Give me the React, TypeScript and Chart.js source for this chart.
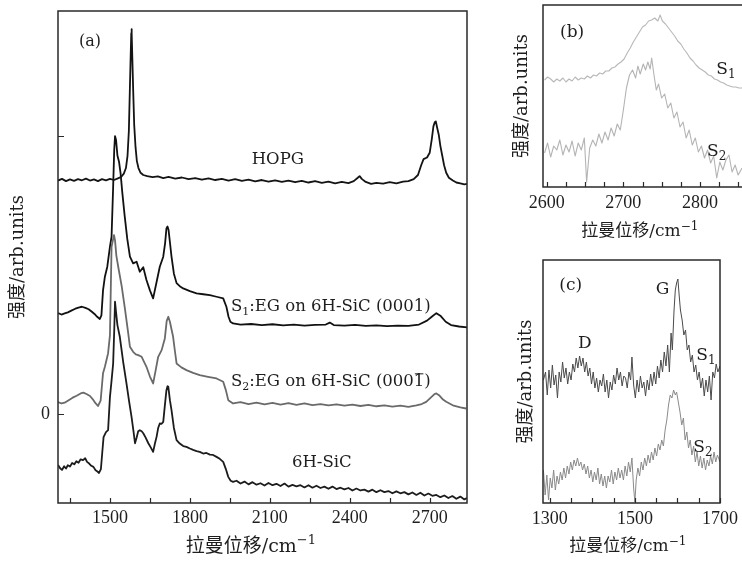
import React, { useEffect, useRef } from "react";
import { Chart, registerables } from "chart.js";

Chart.register(...registerables);

type Pt = [number, number];

// ---------------- Panel (a) data: Raman shift (cm^-1), offset intensity ----------------
const aHOPG: Pt[] = [
  [1305, 84.0], [1320, 84.6], [1335, 83.8], [1350, 84.4], [1365, 83.9], [1380, 84.5], [1395, 84.1], [1410, 84.7],
  [1425, 84.0], [1440, 84.4], [1455, 83.8], [1470, 84.5], [1485, 84.1], [1500, 84.6], [1515, 84.2], [1530, 84.8],
  [1542, 85.3], [1552, 86.5], [1560, 88.5], [1566, 93], [1571, 102], [1575, 118], [1578, 130], [1580, 137],
  [1581, 138.5], [1582, 137], [1584, 128], [1587, 117], [1591, 104], [1596, 96], [1601, 91], [1607, 88.5],
  [1615, 86.8], [1625, 86.0],
  [1640, 85.6], [1660, 85.2], [1680, 85.5], [1700, 84.9], [1720, 85.3], [1745, 84.7], [1770, 85.1], [1795, 84.5],
  [1820, 84.9], [1845, 84.3], [1870, 84.8], [1895, 84.2], [1920, 84.6], [1945, 84.0], [1970, 84.5], [1995, 83.9],
  [2020, 84.3], [2045, 83.7], [2070, 84.2], [2095, 83.6], [2120, 84.1], [2145, 83.5], [2170, 84.0], [2195, 83.4],
  [2220, 83.9], [2245, 83.3], [2270, 83.8], [2295, 83.2], [2320, 83.6], [2345, 83.0], [2370, 83.5], [2395, 83.1],
  [2415, 83.8], [2430, 85.0], [2437, 85.6], [2445, 84.6], [2460, 83.5], [2480, 82.8], [2500, 83.2], [2525, 82.9],
  [2550, 83.4], [2575, 83.0], [2600, 83.6], [2620, 83.8], [2640, 84.5], [2656, 86.0], [2668, 89.5], [2677, 91.7],
  [2690, 92.3], [2700, 94.0], [2708, 99.0], [2714, 103.5], [2719, 105.0], [2723, 105.3], [2728, 103.0], [2734, 100.5],
  [2740, 96.5], [2747, 93.0], [2754, 89.5], [2762, 86.8], [2772, 85.0], [2787, 84.0], [2800, 83.3], [2815, 83.0],
  [2830, 82.6], [2840, 82.8],
];

const aS1: Pt[] = [
  [1305, 36.3], [1318, 35.8], [1330, 36.2], [1342, 36.6], [1355, 37.2], [1370, 37.9], [1385, 38.4], [1395, 38.6],
  [1408, 38.2], [1420, 37.7], [1432, 36.8], [1442, 36.0], [1452, 35.0], [1462, 34.2], [1468, 35.5], [1474, 44.5],
  [1481, 49.4], [1490, 53.0], [1500, 60.2], [1506, 63.8], [1512, 81.8], [1516, 95.0], [1519, 100.0], [1523, 98.5],
  [1528, 93.0], [1534, 90.8], [1540, 86.5], [1546, 80.0], [1555, 71.5], [1565, 63.0], [1575, 56.6], [1587, 54.2],
  [1600, 54.8], [1612, 51.2], [1625, 52.8], [1637, 48.2], [1650, 44.5], [1662, 41.6], [1675, 47.5], [1687, 53.0],
  [1700, 56.6], [1707, 61.5], [1712, 66.8], [1716, 67.5], [1720, 66.2], [1726, 61.0], [1731, 56.6], [1740, 50.5],
  [1750, 47.1], [1762, 46.0], [1775, 45.2], [1800, 44.2], [1825, 43.4], [1850, 43.1], [1875, 42.8], [1900, 42.2],
  [1925, 41.6], [1937, 38.6], [1945, 35.0], [1952, 33.2], [1962, 32.6], [1990, 32.2], [2030, 32.4], [2070, 32.0],
  [2110, 32.3], [2150, 31.9], [2190, 32.2], [2230, 31.8], [2270, 32.1], [2310, 32.2], [2325, 32.9], [2340, 32.0],
  [2380, 31.8], [2420, 32.1], [2460, 31.7], [2500, 31.9], [2540, 31.6], [2580, 31.8], [2620, 31.7], [2660, 32.2],
  [2690, 33.6], [2710, 35.2], [2725, 36.3], [2740, 35.4], [2760, 33.2], [2780, 32.0], [2810, 31.5], [2840, 31.2],
];

const aS2: Pt[] = [
  [1305, 4.3], [1318, 3.8], [1330, 4.1], [1345, 5.0], [1360, 5.9], [1375, 6.6], [1390, 7.4], [1400, 7.7],
  [1412, 7.2], [1425, 6.5], [1435, 5.4], [1445, 4.0], [1455, 2.9], [1465, 4.8], [1474, 14.7], [1481, 17.0],
  [1493, 21.9], [1500, 28.4], [1506, 60.2], [1511, 62.5], [1515, 64.4], [1519, 62.5], [1524, 57.0], [1531, 53.0],
  [1544, 46.0], [1556, 38.0], [1568, 29.5], [1575, 24.2], [1587, 22.4], [1597, 21.5], [1606, 21.2], [1619, 20.6],
  [1628, 18.8], [1637, 17.0], [1650, 13.5], [1662, 11.0], [1672, 16.0], [1681, 20.6], [1694, 23.0], [1706, 27.2],
  [1713, 33.5], [1719, 35.0], [1725, 33.2], [1731, 30.5], [1737, 27.8], [1744, 22.5], [1750, 18.2], [1768, 16.8],
  [1787, 15.8], [1812, 14.8], [1837, 14.0], [1868, 13.4], [1900, 12.8], [1925, 11.6], [1935, 8.6], [1944, 5.0],
  [1962, 3.8], [1990, 4.3], [2020, 3.6], [2050, 4.1], [2080, 3.5], [2110, 4.0], [2140, 3.4], [2170, 3.9],
  [2200, 3.3], [2230, 3.8], [2260, 3.2], [2290, 3.6], [2320, 3.1], [2350, 3.5], [2380, 3.0], [2410, 3.4],
  [2440, 2.9], [2470, 3.3], [2500, 2.8], [2530, 3.1], [2560, 2.7], [2590, 3.0], [2620, 2.6], [2650, 3.1],
  [2670, 3.6], [2687, 4.4], [2705, 6.0], [2718, 7.2], [2725, 7.4], [2735, 6.8], [2750, 5.2], [2762, 4.4],
  [2790, 3.0], [2815, 2.4], [2837, 2.0],
];

const a6HSiC: Pt[] = [
  [1305, -18.3], [1313, -19.5], [1320, -20.1], [1328, -18.8], [1335, -19.6], [1342, -18.4], [1350, -18.9], [1358, -17.6],
  [1366, -18.1], [1374, -17.0], [1382, -17.5], [1390, -16.3], [1399, -16.6], [1407, -15.9], [1414, -17.2], [1422, -17.8],
  [1430, -18.6], [1438, -19.0], [1446, -20.2], [1452, -20.6], [1459, -21.2], [1466, -19.8], [1471, -14.0], [1476, -8.3],
  [1485, -6.5], [1493, -5.8], [1500, 6.2], [1506, 12.0], [1512, 18.2], [1516, 30.0], [1519, 40.4], [1523, 36.5],
  [1528, 32.0], [1537, 27.8], [1550, 18.5], [1562, 11.0], [1572, 4.5], [1581, -1.0], [1588, -6.0], [1594, -10.5],
  [1600, -8.5], [1606, -6.2], [1612, -5.8], [1619, -6.2], [1625, -6.9], [1634, -8.5], [1644, -10.5], [1653, -12.0],
  [1662, -13.6], [1669, -10.5], [1675, -8.2], [1681, -5.0], [1687, -3.4], [1694, -3.5], [1700, -2.8], [1706, 3.0],
  [1712, 8.6], [1716, 10.0], [1719, 9.8], [1725, 5.0], [1731, 1.4], [1740, -5.0], [1750, -9.4], [1762, -10.6],
  [1775, -11.5], [1787, -11.8], [1800, -12.4], [1812, -12.9], [1825, -13.3], [1837, -13.6], [1850, -14.2], [1862, -14.0],
  [1875, -14.6], [1887, -14.7], [1900, -15.4], [1912, -16.1], [1925, -17.2], [1935, -19.8], [1944, -22.6], [1953, -24.0],
  [1962, -24.4], [1975, -24.0], [1990, -25.0], [2005, -24.3], [2020, -25.3], [2035, -24.5], [2050, -25.4], [2065, -24.9],
  [2080, -25.7], [2095, -24.8], [2110, -25.6], [2125, -25.1], [2140, -25.9], [2155, -25.0], [2170, -26.1], [2185, -25.5],
  [2200, -26.0], [2215, -25.6], [2230, -26.4], [2245, -25.6], [2260, -26.5], [2275, -25.8], [2290, -26.6], [2305, -26.1],
  [2320, -26.9], [2335, -26.1], [2350, -27.0], [2365, -26.5], [2380, -27.1], [2395, -26.6], [2410, -27.5], [2425, -26.8],
  [2440, -27.5], [2455, -27.2], [2470, -27.9], [2485, -27.2], [2500, -28.1], [2515, -27.4], [2530, -28.1], [2545, -27.7],
  [2560, -28.5], [2575, -27.8], [2590, -28.5], [2605, -28.1], [2620, -28.9], [2635, -28.2], [2650, -29.1], [2665, -28.3],
  [2680, -29.3], [2695, -28.6], [2710, -29.4], [2725, -29.1], [2740, -29.9], [2755, -29.3], [2770, -30.2], [2785, -29.5],
  [2800, -30.5], [2815, -29.7], [2830, -30.7], [2840, -30.2],
];

const aXRange = [1305, 2840];
const aYRange = [-32, 145];
const aXTickStep = 150;
const aXLabelStep = 300;
const aXLabelBase = 1500;
const aYTickStep = 100;

// ---------------- Panel (b) data: 2D band ----------------
const bS1: Pt[] = [
  [2597, 107], [2601, 110], [2605, 108], [2609, 105], [2613, 108], [2617, 106], [2621, 109], [2625, 105],
  [2629, 108], [2633, 106], [2637, 110], [2641, 107], [2645, 109], [2649, 108], [2653, 111], [2657, 109],
  [2661, 112], [2665, 111], [2669, 114], [2673, 113], [2677, 116], [2681, 116], [2685, 119], [2689, 120],
  [2693, 123], [2697, 125], [2701, 128], [2705, 134], [2709, 139], [2713, 145], [2717, 150], [2721, 155],
  [2725, 160], [2729, 162], [2733, 166], [2737, 167], [2741, 169], [2745, 166], [2748, 172], [2751, 166],
  [2755, 163], [2759, 159], [2763, 155], [2767, 151], [2771, 146], [2775, 143], [2779, 138], [2783, 134],
  [2787, 129], [2791, 126], [2795, 122], [2799, 119], [2803, 117], [2807, 115], [2811, 112], [2815, 111],
  [2819, 108], [2823, 107], [2827, 105], [2831, 104], [2835, 102], [2839, 101], [2843, 100], [2847, 100],
  [2851, 99], [2855, 99],
];

const bS2: Pt[] = [
  [2597, 34], [2601, 44], [2605, 30], [2609, 41], [2613, 37], [2617, 47], [2621, 32], [2625, 42],
  [2629, 35], [2633, 46], [2637, 31], [2641, 44], [2645, 37], [2649, 49], [2652, 5], [2656, 39],
  [2660, 47], [2664, 41], [2668, 53], [2672, 44], [2676, 55], [2680, 47], [2684, 59], [2688, 51],
  [2692, 63], [2696, 57], [2700, 77], [2704, 99], [2708, 112], [2712, 117], [2716, 109], [2719, 121],
  [2722, 113], [2726, 123], [2729, 117], [2732, 125], [2735, 118], [2737, 129], [2740, 112], [2743, 97],
  [2746, 103], [2750, 89], [2754, 93], [2758, 79], [2762, 84], [2766, 69], [2770, 75], [2774, 60],
  [2778, 65], [2782, 49], [2786, 57], [2790, 42], [2794, 49], [2798, 35], [2802, 41], [2806, 29],
  [2810, 37], [2814, 24], [2818, 31], [2822, 9], [2826, 25], [2830, 17], [2834, 27], [2838, 32],
  [2842, 15], [2846, 22], [2850, 12], [2855, 19],
];

const bXRange = [2595, 2855];
const bYRange = [0, 182];
const bXTickStep = 25;
const bXLabelStep = 100;
const bXLabelBase = 2600;

// ---------------- Panel (c) data: D and G bands ----------------
const cS1: Pt[] = [
  [1285, 123], [1290, 131], [1294, 108], [1298, 133], [1302, 115], [1306, 138], [1310, 118], [1314, 128],
  [1318, 105], [1322, 131], [1326, 121], [1330, 141], [1334, 125], [1338, 135], [1342, 119], [1346, 131],
  [1350, 123], [1354, 139], [1358, 131], [1362, 145], [1366, 135], [1370, 147], [1374, 137], [1378, 145],
  [1382, 131], [1386, 141], [1390, 127], [1394, 135], [1398, 119], [1402, 131], [1406, 115], [1410, 125],
  [1414, 111], [1418, 123], [1422, 117], [1426, 129], [1430, 111], [1434, 123], [1438, 105], [1442, 121],
  [1446, 113], [1450, 128], [1454, 119], [1458, 135], [1462, 123], [1466, 131], [1470, 117], [1474, 127],
  [1478, 125], [1482, 115], [1486, 131], [1490, 123], [1493, 146], [1497, 118], [1501, 105], [1505, 123],
  [1509, 111], [1513, 127], [1517, 115], [1521, 121], [1525, 107], [1529, 123], [1533, 113], [1537, 129],
  [1541, 117], [1545, 131], [1549, 119], [1553, 137], [1557, 125], [1561, 143], [1565, 131], [1569, 151],
  [1573, 137], [1577, 158], [1581, 131], [1585, 170], [1588, 153], [1592, 193], [1595, 213], [1598, 220],
  [1601, 224], [1604, 208], [1607, 193], [1611, 183], [1615, 168], [1619, 173], [1623, 153], [1627, 158],
  [1631, 141], [1635, 148], [1639, 131], [1643, 138], [1647, 123], [1651, 131], [1655, 115], [1659, 125],
  [1663, 107], [1667, 123], [1671, 111], [1675, 127], [1679, 103], [1683, 131], [1687, 125], [1691, 139],
  [1695, 131], [1700, 137],
];

const cS2: Pt[] = [
  [1285, 33], [1289, 8], [1293, 28], [1297, 3], [1301, 25], [1305, 15], [1309, 33], [1313, 13],
  [1317, 27], [1321, 19], [1325, 31], [1329, 23], [1333, 35], [1337, 25], [1341, 37], [1345, 29],
  [1349, 41], [1353, 33], [1357, 43], [1361, 37], [1365, 45], [1369, 37], [1373, 41], [1377, 33],
  [1381, 39], [1385, 29], [1389, 37], [1393, 25], [1397, 33], [1401, 21], [1405, 31], [1409, 23],
  [1413, 35], [1417, 19], [1421, 29], [1425, 17], [1429, 27], [1433, 15], [1437, 27], [1441, 21],
  [1445, 33], [1449, 19], [1453, 31], [1457, 23], [1461, 35], [1465, 25], [1469, 33], [1473, 23],
  [1477, 37], [1481, 27], [1485, 41], [1489, 31], [1493, 45], [1497, 15], [1500, 1], [1503, 23],
  [1507, 35], [1511, 27], [1515, 41], [1519, 33], [1523, 45], [1527, 37], [1531, 48], [1535, 40],
  [1539, 51], [1543, 43], [1547, 55], [1551, 47], [1555, 59], [1559, 53], [1563, 63], [1567, 57],
  [1571, 73], [1575, 83], [1579, 98], [1583, 108], [1587, 105], [1591, 113], [1595, 108], [1598, 111],
  [1602, 101], [1606, 91], [1610, 78], [1614, 85], [1618, 63], [1622, 71], [1626, 55], [1630, 63],
  [1634, 48], [1638, 57], [1642, 41], [1646, 51], [1650, 37], [1654, 47], [1658, 35], [1662, 45],
  [1666, 33], [1670, 43], [1674, 37], [1678, 47], [1682, 39], [1686, 51], [1690, 41], [1694, 48],
  [1700, 41],
];

const cXRange = [1284, 1700];
const cYRange = [0, 243];
const cXTickStep = 50;
const cXLabelStep = 200;
const cXLabelBase = 1300;

// ---------------- Text ----------------
const xTitleMain = "拉曼位移/cm";
const xTitleSup = "\u22121";
const yTitleText = "强度/arb.units";

const TEXT_FONT = "'DejaVu Serif', 'Noto Sans CJK SC', serif";
const TICK_FONT = "'Liberation Serif', 'DejaVu Serif', serif";
const INK = "#1e1e1e";

type Part = { t: string; sub?: boolean; sup?: boolean; over?: boolean };
type Note = { x: number; y: number; parts: Part[]; size: number };

function drawRich(ctx: CanvasRenderingContext2D, parts: Part[], x: number, y: number, size: number) {
  ctx.save();
  ctx.textBaseline = "middle";
  ctx.textAlign = "left";
  ctx.fillStyle = INK;
  ctx.strokeStyle = INK;
  const sizes = parts.map((p) => (p.sub || p.sup ? Math.round(size * 0.68) : size));
  const widths = parts.map((p, i) => {
    ctx.font = `${sizes[i]}px ${TEXT_FONT}`;
    return ctx.measureText(p.t).width;
  });
  const total = widths.reduce((s, w) => s + w, 0);
  let cx = x - total / 2;
  parts.forEach((p, i) => {
    ctx.font = `${sizes[i]}px ${TEXT_FONT}`;
    const dy = p.sub ? size * 0.3 : p.sup ? -size * 0.32 : 0;
    ctx.fillText(p.t, cx, y + dy);
    if (p.over) {
      ctx.lineWidth = 1;
      ctx.beginPath();
      ctx.moveTo(cx + 1, y - size * 0.5);
      ctx.lineTo(cx + widths[i] - 1, y - size * 0.5);
      ctx.stroke();
    }
    cx += widths[i];
  });
  ctx.restore();
}

interface SeriesSpec { pts: Pt[]; color: string; width: number }
interface PanelSpec {
  series: SeriesSpec[];
  xRange: number[];
  yRange: number[];
  xStep: number;
  xLabelStep: number;
  xLabelBase: number;
  yStep: number;
  yLabel: boolean;
  padding: { left: number; right: number; top: number; bottom: number };
  xAxisH: number;
  yAxisW: number;
  tickSize: number;
  xTickPad: number;
  yTickPad: number;
  yTitleSize: number;
  yTitlePad: number;
  sides: string[];
  yTicks: boolean;
  notes: Note[];
}

function framePlugin(spec: PanelSpec) {
  return {
    id: "frameNotes",
    afterDraw(chart: any) {
      const { ctx, chartArea: a, scales } = chart;
      const xs = scales.x;
      const ys = scales.y;
      ctx.save();
      ctx.strokeStyle = "#2a2a2a";
      ctx.lineWidth = 1.5;
      ctx.lineCap = "square";
      ctx.beginPath();
      if (spec.sides.includes("top")) { ctx.moveTo(a.left, a.top); ctx.lineTo(a.right, a.top); }
      if (spec.sides.includes("right")) { ctx.moveTo(a.right, a.top); ctx.lineTo(a.right, a.bottom); }
      if (spec.sides.includes("bottom")) { ctx.moveTo(a.left, a.bottom); ctx.lineTo(a.right, a.bottom); }
      if (spec.sides.includes("left")) { ctx.moveTo(a.left, a.top); ctx.lineTo(a.left, a.bottom); }
      ctx.stroke();
      ctx.lineWidth = 1.2;
      ctx.lineCap = "butt";
      ctx.beginPath();
      for (const t of xs.ticks) {
        const px = Math.round(xs.getPixelForValue(t.value)) + 0.5;
        ctx.moveTo(px, a.bottom);
        ctx.lineTo(px, a.bottom - 5);
      }
      if (spec.yTicks) {
        for (const t of ys.ticks) {
          const py = Math.round(ys.getPixelForValue(t.value)) + 0.5;
          ctx.moveTo(a.left, py);
          ctx.lineTo(a.left + 6, py);
        }
      }
      ctx.stroke();
      ctx.restore();
      for (const n of spec.notes) {
        drawRich(ctx, n.parts, xs.getPixelForValue(n.x), ys.getPixelForValue(n.y), n.size);
      }
    },
  };
}

function buildChart(canvas: HTMLCanvasElement, spec: PanelSpec) {
  return new Chart(canvas, {
    type: "line",
    data: {
      datasets: spec.series.map((s) => ({
        data: s.pts.map(([x, y]) => ({ x, y })),
        borderColor: s.color,
        borderWidth: s.width,
        borderJoinStyle: "round",
        pointRadius: 0,
        tension: 0,
        fill: false,
      })),
    },
    options: {
      animation: false,
      responsive: false,
      maintainAspectRatio: false,
      events: [],
      layout: { padding: spec.padding },
      plugins: { legend: { display: false }, tooltip: { enabled: false }, title: { display: false } },
      scales: {
        x: {
          type: "linear",
          min: spec.xRange[0],
          max: spec.xRange[1],
          grid: { display: false, drawTicks: false },
          border: { display: false },
          ticks: {
            stepSize: spec.xStep,
            autoSkip: false,
            maxRotation: 0,
            minRotation: 0,
            includeBounds: false,
            padding: spec.xTickPad,
            color: INK,
            font: { family: TICK_FONT, size: spec.tickSize },
            callback: (v: any) => ((Number(v) - spec.xLabelBase) % spec.xLabelStep === 0 ? String(v) : ""),
          },
          afterFit: (s: any) => {
            s.height = spec.xAxisH;
            s.paddingLeft = 0;
            s.paddingRight = 0;
          },
        },
        y: {
          type: "linear",
          min: spec.yRange[0],
          max: spec.yRange[1],
          grid: { display: false, drawTicks: false },
          border: { display: false },
          ticks: {
            display: spec.yLabel,
            stepSize: spec.yStep,
            includeBounds: false,
            padding: spec.yTickPad,
            color: INK,
            font: { family: TICK_FONT, size: spec.tickSize },
            callback: (v: any) => (Number(v) === 0 ? "0" : ""),
          },
          title: {
            display: true,
            text: yTitleText,
            color: INK,
            font: { family: TEXT_FONT, size: spec.yTitleSize },
            padding: { top: spec.yTitlePad, bottom: 0 },
          },
          afterFit: (s: any) => {
            s.width = spec.yAxisW;
            s.paddingTop = 0;
            s.paddingBottom = 0;
          },
        },
      },
    } as any,
    plugins: [framePlugin(spec)],
  });
}

const S = (n: string): Part[] => [{ t: "S" }, { t: n, sub: true }];
const titleParts: Part[] = [{ t: xTitleMain }, { t: xTitleSup, sup: true }];

const specA: PanelSpec = {
  series: [
    { pts: aHOPG, color: "#141414", width: 1.8 },
    { pts: a6HSiC, color: "#1c1c1c", width: 1.8 },
    { pts: aS2, color: "#6a6a6a", width: 1.8 },
    { pts: aS1, color: "#111111", width: 1.8 },
  ],
  xRange: aXRange,
  yRange: aYRange,
  xStep: aXTickStep,
  xLabelStep: aXLabelStep,
  xLabelBase: aXLabelBase,
  yStep: aYTickStep,
  yLabel: true,
  padding: { left: 0, right: 23, top: 11, bottom: 0 },
  xAxisH: 58,
  yAxisW: 58,
  tickSize: 18,
  xTickPad: 4,
  yTickPad: 8,
  yTitleSize: 18,
  yTitlePad: 8,
  sides: ["top", "right", "bottom", "left"],
  yTicks: true,
  notes: [
    { x: 1425, y: 133.8, parts: [{ t: "(a)" }], size: 16 },
    { x: 2130, y: 91.4, parts: [{ t: "HOPG" }], size: 16.5 },
    { x: 2329, y: 38.5, parts: [...S("1"), { t: ":EG on 6H-SiC (0001)" }], size: 16.5 },
    { x: 2329, y: 11.5, parts: [...S("2"), { t: ":EG on 6H-SiC (000" }, { t: "1", over: true }, { t: ")" }], size: 16.5 },
    { x: 2295, y: -17.6, parts: [{ t: "6H-SiC" }], size: 16.5 },
    { x: 2029, y: -47.8, parts: titleParts, size: 19 },
  ],
};

const specB: PanelSpec = {
  series: [
    { pts: bS2, color: "#b4b4b4", width: 1.1 },
    { pts: bS1, color: "#b8b8b8", width: 1.1 },
  ],
  xRange: bXRange,
  yRange: bYRange,
  xStep: bXTickStep,
  xLabelStep: bXLabelStep,
  xLabelBase: bXLabelBase,
  yStep: 50,
  yLabel: false,
  padding: { left: 0, right: 0, top: 5, bottom: 0 },
  xAxisH: 63,
  yAxisW: 53,
  tickSize: 18,
  xTickPad: 5,
  yTickPad: 4,
  yTitleSize: 18,
  yTitlePad: 22,
  sides: ["top", "bottom", "left"],
  yTicks: false,
  notes: [
    { x: 2633, y: 154, parts: [{ t: "(b)" }], size: 17 },
    { x: 2834, y: 117, parts: S("1"), size: 17 },
    { x: 2822, y: 35, parts: S("2"), size: 17 },
    { x: 2721.6, y: -45, parts: titleParts, size: 17 },
  ],
};

const specC: PanelSpec = {
  series: [
    { pts: cS2, color: "#8a8a8a", width: 1 },
    { pts: cS1, color: "#4a4a4a", width: 1 },
  ],
  xRange: cXRange,
  yRange: cYRange,
  xStep: cXTickStep,
  xLabelStep: cXLabelStep,
  xLabelBase: cXLabelBase,
  yStep: 50,
  yLabel: false,
  padding: { left: 0, right: 22, top: 10, bottom: 0 },
  xAxisH: 58,
  yAxisW: 53,
  tickSize: 18,
  xTickPad: 5,
  yTickPad: 4,
  yTitleSize: 18,
  yTitlePad: 26,
  sides: ["top", "right", "bottom", "left"],
  yTicks: false,
  notes: [
    { x: 1349, y: 217, parts: [{ t: "(c)" }], size: 17 },
    { x: 1565, y: 213, parts: [{ t: "G" }], size: 17 },
    { x: 1382, y: 159, parts: [{ t: "D" }], size: 17 },
    { x: 1667, y: 147, parts: S("1"), size: 17 },
    { x: 1660, y: 55, parts: S("2"), size: 17 },
    { x: 1483.5, y: -44, parts: titleParts, size: 17 },
  ],
};

function Panel(props: { left: number; top: number; width: number; height: number; spec: PanelSpec }) {
  const ref = useRef<HTMLCanvasElement>(null);
  useEffect(() => {
    const chart = buildChart(ref.current as HTMLCanvasElement, props.spec);
    return () => chart.destroy();
  }, []);
  return (
    <canvas
      ref={ref}
      width={props.width}
      height={props.height}
      style={{ position: "absolute", left: props.left, top: props.top, width: props.width, height: props.height }}
    />
  );
}

export default function App() {
  return (
    <div style={{ position: "absolute", left: 0, top: 0, width: 742, height: 561, background: "#ffffff", overflow: "hidden" }}>
      <Panel left={0} top={0} width={490} height={561} spec={specA} />
      <Panel left={490} top={0} width={252} height={250} spec={specB} />
      <Panel left={490} top={250} width={252} height={311} spec={specC} />
    </div>
  );
}
